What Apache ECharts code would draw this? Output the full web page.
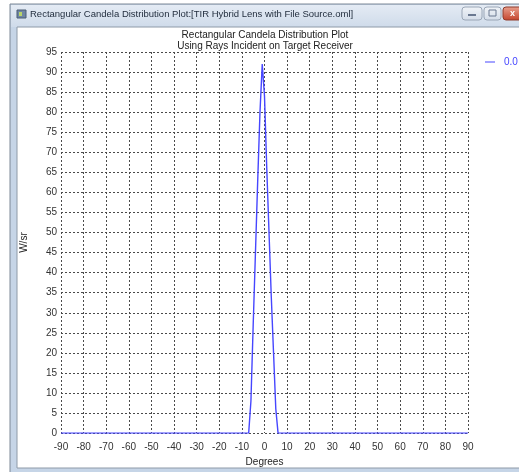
<!DOCTYPE html>
<html>
<head>
<meta charset="utf-8">
<title>Rectangular Candela Distribution Plot</title>
<script src="https://cdn.jsdelivr.net/npm/echarts@6/dist/echarts.min.js"></script>
<style>
  html, body { margin: 0; padding: 0; background: #ffffff; }
  #chart { width: 519px; height: 472px; }
</style>
</head>
<body>
<div id="chart"></div>
<script>
// Candela profile: angle (degrees) vs intensity (W/sr)
const degrees = [-90, -7, -6, -5, -4, -3, -2, -1, 0, 1, 2, 3, 4, 5, 6, 90];
const wattsPerSr = [0, 0, 8, 27, 45, 63, 80, 92, 84, 66, 50, 34, 20, 6, 0, 0];
const seriesName = '0.0';

const windowTitle = 'Rectangular Candela Distribution Plot:[TIR Hybrid Lens with File Source.oml]';
const plotTitle = 'Rectangular Candela Distribution Plot';
const plotSubtitle = 'Using Rays Incident on Target Receiver';
const xAxisName = 'Degrees';
const yAxisName = 'W/sr';

const xTicks = { min: -90, max: 90, step: 10 };
const yTicks = { min: 0, max: 95, step: 5 };

const points = degrees.map((d, i) => [d, wattsPerSr[i]]);

const chart = echarts.init(document.getElementById('chart'), null, { renderer: 'canvas' });
const font = 'Liberation Sans, Arial, sans-serif';
const gridDash = { color: '#4a4a4a', width: 1, type: [2, 2] };
const lineBlue = '#4646ff';

chart.setOption({
  backgroundColor: '#ffffff',
  animation: false,
  graphic: [
    // outer window frame
    { type: 'rect', shape: { x: 10, y: 4, width: 520, height: 470 },
      style: { fill: '#c6d5e7', stroke: '#7d8896', lineWidth: 1 }, z: -10 },
    // title bar gradient
    { type: 'rect', shape: { x: 11, y: 5, width: 520, height: 22 },
      style: { fill: new echarts.graphic.LinearGradient(0, 0, 0, 1, [
        { offset: 0, color: '#e4ebf4' }, { offset: 1, color: '#cfdbea' }]) }, z: -9 },
    // client area
    { type: 'rect', shape: { x: 17, y: 27, width: 510, height: 441 },
      style: { fill: '#ffffff', stroke: '#8e9aa8', lineWidth: 1 }, z: -8 },
    // title bar icon
    { type: 'rect', shape: { x: 17, y: 10, width: 9, height: 8 },
      style: { fill: '#6f86a3', stroke: '#4b5d75', lineWidth: 1 }, z: -7 },
    { type: 'rect', shape: { x: 19, y: 12, width: 3, height: 4 },
      style: { fill: '#b9d46a' }, z: -6 },
    { type: 'text', x: 30, y: 14,
      style: { text: windowTitle, font: '9.5px ' + font, fill: '#1e2a3a', textVerticalAlign: 'middle' } },
    // caption buttons
    { type: 'rect', shape: { x: 462, y: 7, width: 20, height: 13, r: 3 },
      style: { fill: new echarts.graphic.LinearGradient(0, 0, 0, 1, [
        { offset: 0, color: '#f1f4f8' }, { offset: 1, color: '#d3dce8' }]), stroke: '#9aa6b6', lineWidth: 1 } },
    { type: 'rect', shape: { x: 468, y: 14, width: 8, height: 2 }, style: { fill: '#6a7890' } },
    { type: 'rect', shape: { x: 484, y: 7, width: 17, height: 13, r: 3 },
      style: { fill: new echarts.graphic.LinearGradient(0, 0, 0, 1, [
        { offset: 0, color: '#f1f4f8' }, { offset: 1, color: '#d3dce8' }]), stroke: '#9aa6b6', lineWidth: 1 } },
    { type: 'rect', shape: { x: 489, y: 10, width: 7, height: 6 }, style: { fill: 'none', stroke: '#6a7890', lineWidth: 1 } },
    { type: 'rect', shape: { x: 503, y: 7, width: 24, height: 13, r: 3 },
      style: { fill: new echarts.graphic.LinearGradient(0, 0, 0, 1, [
        { offset: 0, color: '#e9a290' }, { offset: 1, color: '#c4432b' }]), stroke: '#8f3a2a', lineWidth: 1 } },
    { type: 'text', x: 510, y: 14,
      style: { text: 'x', font: 'bold 9px ' + font, fill: '#ffffff', textVerticalAlign: 'middle' } },
    // plot titles
    { type: 'text', x: 265, y: 35,
      style: { text: plotTitle, font: '10px ' + font, fill: '#222222', textAlign: 'center', textVerticalAlign: 'middle' } },
    { type: 'text', x: 265, y: 46,
      style: { text: plotSubtitle, font: '10px ' + font, fill: '#222222', textAlign: 'center', textVerticalAlign: 'middle' } }
  ],
  legend: {
    left: 480, top: 52,
    orient: 'vertical',
    icon: 'path://M0,0 L10,0 L10,1 L0,1 Z',
    itemWidth: 10, itemHeight: 1, itemGap: 4,
    textStyle: { color: lineBlue, fontFamily: font, fontSize: 10, padding: [0, 0, 0, 4] },
    data: [seriesName]
  },
  grid: { left: 61, right: 51, top: 52, bottom: 31, containLabel: false },
  xAxis: {
    type: 'value',
    min: xTicks.min, max: xTicks.max, interval: xTicks.step,
    name: xAxisName, nameLocation: 'middle', nameGap: 21,
    nameTextStyle: { color: '#222222', fontFamily: font, fontSize: 10 },
    axisLine: { show: false },
    axisTick: { show: false },
    axisLabel: { color: '#333333', fontFamily: font, fontSize: 10, margin: 9 },
    splitLine: { show: true, lineStyle: gridDash }
  },
  yAxis: {
    type: 'value',
    min: yTicks.min, max: yTicks.max, interval: yTicks.step,
    name: yAxisName, nameLocation: 'middle', nameGap: 32, nameRotate: 90,
    nameTextStyle: { color: '#222222', fontFamily: font, fontSize: 10 },
    axisLine: { show: false },
    axisTick: { show: false },
    axisLabel: { color: '#333333', fontFamily: font, fontSize: 10, margin: 4 },
    splitLine: { show: true, lineStyle: gridDash }
  },
  series: [{
    name: seriesName,
    type: 'line',
    data: points,
    showSymbol: false,
    symbol: 'none',
    lineStyle: { color: lineBlue, width: 1.4 },
    itemStyle: { color: lineBlue },
    z: 5
  }]
});
</script>
</body>
</html>
